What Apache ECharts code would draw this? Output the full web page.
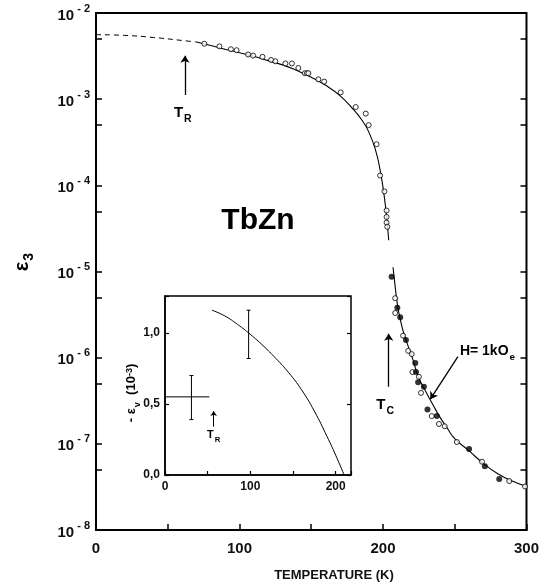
<!DOCTYPE html>
<html>
<head>
<meta charset="utf-8">
<script src="https://cdn.jsdelivr.net/npm/echarts@6/dist/echarts.min.js"></script>
<style>
  html, body { margin: 0; background: #fff; }
  #chart { width: 542px; height: 587px; }
</style>
</head>
<body>
<div id="chart"></div>
<script>
// main panel: epsilon_3 vs temperature (log scale)
const dashTemp = [0, 20, 40, 60, 70];
const dashEps = [5.6e-3, 5.5e-3, 5.2e-3, 4.8e-3, 4.6e-3];

const upperTemp = [70, 80, 90, 100, 110, 120, 130, 140, 150, 160, 170, 180, 185, 190, 195, 198, 200, 202, 204];
const upperEps = [4.6e-3, 4.2e-3, 3.8e-3, 3.45e-3, 3.15e-3, 2.8e-3, 2.5e-3, 2.15e-3, 1.8e-3, 1.45e-3,
                  1.1e-3, 7.4e-4, 5.8e-4, 4.2e-4, 2.5e-4, 1.5e-4, 9.5e-5, 5.2e-5, 2.3e-5];

const lowerTemp = [207, 208, 210, 212, 215, 220, 225, 230, 235, 240, 245, 250, 260, 270, 280, 290, 300];
const lowerEps = [1.12e-5, 7.9e-6, 4.2e-6, 2.8e-6, 1.8e-6, 1.05e-6, 5.8e-7, 4.0e-7, 2.8e-7, 2.0e-7,
                  1.5e-7, 1.15e-7, 8.3e-8, 5.9e-8, 4.5e-8, 3.7e-8, 3.2e-8];

// open circles
const openTemp = [75.5, 86, 94, 98, 106, 109.5, 116, 122, 125, 132, 136.5, 141, 145.5, 147, 148, 155, 159,
                  170.5, 181, 188, 190, 195.5, 198, 201, 202.5, 202.5, 202.5, 203,
                  208.5, 208.5, 214, 217.6, 220, 220.5, 225, 226.5, 234, 239, 243, 251.5, 269, 288, 299];
const openEps = [4.4e-3, 4.1e-3, 3.8e-3, 3.7e-3, 3.3e-3, 3.2e-3, 3.1e-3, 2.85e-3, 2.75e-3, 2.6e-3, 2.6e-3,
                 2.3e-3, 2.0e-3, 2.0e-3, 2.0e-3, 1.7e-3, 1.6e-3,
                 1.2e-3, 8.1e-4, 6.8e-4, 5.0e-4, 3.0e-4, 1.3e-4, 8.5e-5, 5.1e-5, 4.3e-5, 3.7e-5, 3.3e-5,
                 4.9e-6, 3.3e-6, 1.8e-6, 1.2e-6, 1.1e-6, 6.8e-7, 6.0e-7, 3.9e-7, 2.1e-7, 1.7e-7, 1.6e-7,
                 1.05e-7, 6.2e-8, 3.7e-8, 3.2e-8];

// filled circles (H = 1 kOe)
const fullTemp = [206, 210, 212, 216, 222.5, 223, 224.5, 228.5, 231, 237.5, 260, 271, 281];
const fullEps = [8.7e-6, 3.8e-6, 2.95e-6, 1.6e-6, 8.7e-7, 6.8e-7, 5.2e-7, 4.6e-7, 2.5e-7, 2.1e-7, 8.7e-8, 5.5e-8, 3.9e-8];

// inset: -epsilon_v (10^-3) vs temperature
const insetTemp = [55, 70, 85, 100, 115, 130, 145, 160, 175, 190, 200, 210];
const insetEps = [1.16, 1.12, 1.06, 0.99, 0.91, 0.82, 0.72, 0.60, 0.45, 0.27, 0.14, 0.0];
// [T, value, low, high, T low, T high]
const insetErr = [
  [31, 0.55, 0.39, 0.70, 0, 52],
  [98, 0.99, 0.82, 1.16, 98, 98]
];

const decadeExp = [-8, -7, -6, -5, -4, -3, -2];
const halfExp = [-8, -7, -6, -5, -4, -3].map(n => n + Math.log10(5));

const FONT = 'Liberation Sans, Arial, sans-serif';
const zip = (a, b) => a.map((v, i) => [v, b[i]]);

const chart = echarts.init(document.getElementById('chart'));

const tickStyle = { show: true, inside: true, length: 6, lineStyle: { color: '#000', width: 1.5 } };

const option = {
  animation: false,
  backgroundColor: '#fff',
  textStyle: { fontFamily: FONT },
  grid: [
    { left: 96, top: 13, width: 433, height: 517, show: true, borderColor: '#000', borderWidth: 2 },
    { left: 165, top: 296, width: 186, height: 179, show: true, borderColor: '#000', borderWidth: 1.5, backgroundColor: '#fff' }
  ],
  xAxis: [
    {
      gridIndex: 0, type: 'value', min: 0, max: 300, interval: 100,
      axisLine: { lineStyle: { color: '#000', width: 2 } },
      axisTick: tickStyle,
      minorTick: { show: true, splitNumber: 2, length: 6, lineStyle: { color: '#000', width: 1.5 } },
      splitLine: { show: false },
      axisLabel: { margin: 11, fontSize: 15, fontWeight: 'bold', color: '#111', fontFamily: FONT }
    },
    {
      gridIndex: 1, type: 'value', min: 0, max: 218, interval: 100,
      axisLine: { lineStyle: { color: '#000', width: 1.5 } },
      axisTick: { show: true, inside: true, length: 4, lineStyle: { color: '#000', width: 1.2 } },
      minorTick: { show: true, splitNumber: 2, length: 4, lineStyle: { color: '#000', width: 1.2 } },
      splitLine: { show: false },
      axisLabel: {
        margin: 6, fontSize: 12, fontWeight: 'bold', color: '#111', fontFamily: FONT,
        formatter: v => (v % 100 === 0 ? String(v) : '')
      }
    }
  ],
  yAxis: [
    {
      gridIndex: 0, type: 'log', logBase: 10, min: 1e-8, max: 1e-2, splitNumber: 6, interval: 1,
      axisLine: { lineStyle: { color: '#000', width: 2 } },
      axisTick: tickStyle,
      splitLine: { show: false },
      axisLabel: {
        margin: 6, color: '#111',
        formatter: v => '{b|10}{s|- ' + (-Math.round(Math.log10(v))) + '}',
        rich: {
          b: { fontSize: 15, fontWeight: 'bold', fontFamily: FONT, lineHeight: 20, verticalAlign: 'bottom', color: '#111' },
          s: { fontSize: 11, fontWeight: 'bold', fontFamily: FONT, verticalAlign: 'top', padding: [0, 0, 0, 3], color: '#111' }
        }
      }
    },
    {
      // left minor ticks at 5 x 10^n
      gridIndex: 0, type: 'value', min: -8, max: -2, position: 'left',
      axisLine: { show: false },
      axisTick: Object.assign({}, tickStyle, { customValues: halfExp }),
      axisLabel: { show: false },
      splitLine: { show: false }
    },
    {
      // right side ticks
      gridIndex: 0, type: 'value', min: -8, max: -2, position: 'right',
      axisLine: { show: false },
      axisTick: Object.assign({}, tickStyle, { customValues: decadeExp.concat(halfExp) }),
      axisLabel: { show: false },
      splitLine: { show: false }
    },
    {
      gridIndex: 1, type: 'value', min: 0, max: 1.26, interval: 0.5,
      axisLine: { lineStyle: { color: '#000', width: 1.5 } },
      axisTick: { show: true, inside: true, length: 4, lineStyle: { color: '#000', width: 1.2 } },
      splitLine: { show: false },
      axisLabel: {
        margin: 5, fontSize: 12, fontWeight: 'bold', color: '#111', fontFamily: FONT,
        formatter: v => (Math.abs(v * 2 - Math.round(v * 2)) < 1e-6 ? v.toFixed(1).replace('.', ',') : '')
      }
    },
    {
      gridIndex: 1, type: 'value', min: 0, max: 1.26, interval: 0.5, position: 'right',
      axisLine: { show: false },
      axisTick: { show: true, inside: true, length: 4, lineStyle: { color: '#000', width: 1.2 } },
      axisLabel: { show: false },
      splitLine: { show: false }
    }
  ],
  series: [
    {
      type: 'line', xAxisIndex: 0, yAxisIndex: 0, data: zip(dashTemp, dashEps),
      smooth: true, symbol: 'none', lineStyle: { color: '#000', width: 1, type: [5, 4] }
    },
    {
      type: 'line', xAxisIndex: 0, yAxisIndex: 0, data: zip(upperTemp, upperEps),
      smooth: true, symbol: 'none', lineStyle: { color: '#000', width: 1.1 }
    },
    {
      type: 'line', xAxisIndex: 0, yAxisIndex: 0, data: zip(lowerTemp, lowerEps),
      smooth: true, symbol: 'none', lineStyle: { color: '#000', width: 1.1 }
    },
    {
      type: 'scatter', xAxisIndex: 0, yAxisIndex: 0, data: zip(openTemp, openEps),
      symbol: 'circle', symbolSize: 5,
      itemStyle: { color: '#fff', borderColor: '#000', borderWidth: 1 }, z: 5
    },
    {
      type: 'scatter', xAxisIndex: 0, yAxisIndex: 0, data: zip(fullTemp, fullEps),
      symbol: 'circle', symbolSize: 6, itemStyle: { color: '#000' }, z: 5
    },
    {
      // annotation arrows in the main panel
      type: 'lines', coordinateSystem: 'cartesian2d', xAxisIndex: 0, yAxisIndex: 0,
      symbol: ['none', 'arrow'], symbolSize: 7,
      lineStyle: { color: '#000', width: 1.3, opacity: 1 },
      data: [
        { coords: [[62, 1.12e-3], [62, 3.2e-3]] },
        { coords: [[204, 4.6e-7], [204, 1.9e-6]] },
        { coords: [[252.2, 1.03e-6], [233, 3.3e-7]] }
      ], z: 6
    },
    {
      type: 'line', xAxisIndex: 1, yAxisIndex: 3, data: zip(insetTemp, insetEps),
      smooth: true, symbol: 'none', lineStyle: { color: '#000', width: 1 }, z: 4
    },
    {
      type: 'custom', xAxisIndex: 1, yAxisIndex: 3, data: insetErr, z: 4,
      renderItem: (params, api) => {
        const x = api.value(0), y = api.value(1);
        const top = api.coord([x, api.value(3)]);
        const bot = api.coord([x, api.value(2)]);
        const left = api.coord([api.value(4), y]);
        const right = api.coord([api.value(5), y]);
        const st = { stroke: '#000', lineWidth: 1 };
        const children = [
          { type: 'line', shape: { x1: top[0], y1: top[1], x2: bot[0], y2: bot[1] }, style: st },
          { type: 'line', shape: { x1: top[0] - 2, y1: top[1], x2: top[0] + 2, y2: top[1] }, style: st },
          { type: 'line', shape: { x1: bot[0] - 2, y1: bot[1], x2: bot[0] + 2, y2: bot[1] }, style: st }
        ];
        if (right[0] - left[0] > 1) {
          children.push({ type: 'line', shape: { x1: left[0], y1: left[1], x2: right[0], y2: right[1] }, style: st });
        }
        return { type: 'group', children };
      }
    },
    {
      type: 'lines', coordinateSystem: 'cartesian2d', xAxisIndex: 1, yAxisIndex: 3,
      symbol: ['none', 'arrow'], symbolSize: 5,
      lineStyle: { color: '#000', width: 1, opacity: 1 },
      data: [{ coords: [[57, 0.34], [57, 0.45]] }], z: 6
    }
  ]
};

chart.setOption(option);

// text annotations placed through the axes
const px = (x, y) => chart.convertToPixel({ xAxisIndex: 0, yAxisIndex: 0 }, [x, y]);
const pxIn = (x, y) => chart.convertToPixel({ xAxisIndex: 1, yAxisIndex: 3 }, [x, y]);
const subRich = (size) => ({
  m: { fontSize: size, fontWeight: 'bold', fontFamily: FONT, color: '#111', verticalAlign: 'top', lineHeight: size + 4 },
  d: { fontSize: size * 0.7, fontWeight: 'bold', fontFamily: FONT, color: '#111', verticalAlign: 'bottom', padding: [0, 0, 0, 1] },
  u: { fontSize: size * 0.7, fontWeight: 'bold', fontFamily: FONT, color: '#111', verticalAlign: 'top' }
});

const tR = px(60.5, 6.6e-4);
const tC = px(201.5, 2.7e-7);
const hLab = px(253.6, 1.12e-6);
const tRin = pxIn(57, 0.27);

chart.setOption({
  graphic: [
    { type: 'text', x: tR[0], y: tR[1], style: { text: '{m|T}{d|R}', rich: subRich(15), align: 'center', verticalAlign: 'middle' } },
    { type: 'text', x: tC[0], y: tC[1], style: { text: '{m|T}{d|C}', rich: subRich(15), align: 'center', verticalAlign: 'middle' } },
    { type: 'text', x: hLab[0], y: hLab[1], style: { text: '{m|H= 1kO}{d|e}', rich: subRich(14), align: 'left', verticalAlign: 'middle' } },
    { type: 'text', x: tRin[0], y: tRin[1], style: { text: '{m|T}{d|R}', rich: subRich(11), align: 'center', verticalAlign: 'middle' } },
    {
      type: 'text', x: 258, y: 221,
      style: { text: 'TbZn', font: 'bold 30px ' + FONT, fill: '#000', align: 'center', verticalAlign: 'middle' }
    },
    {
      type: 'text', x: 334, y: 575,
      style: { text: 'TEMPERATURE (K)', font: 'bold 13px ' + FONT, fill: '#111', align: 'center', verticalAlign: 'middle' }
    },
    {
      type: 'text', x: 24, y: 262, rotation: Math.PI / 2,
      style: { text: '{m|ε}{d|3}', rich: subRich(20), align: 'center', verticalAlign: 'middle' }
    },
    {
      type: 'text', x: 133, y: 393, rotation: Math.PI / 2,
      style: {
        text: '{m|- ε}{d|v}{m|  (10}{u|-3}{m|)}',
        rich: subRich(13), align: 'center', verticalAlign: 'middle'
      }
    }
  ]
});
</script>
</body>
</html>
